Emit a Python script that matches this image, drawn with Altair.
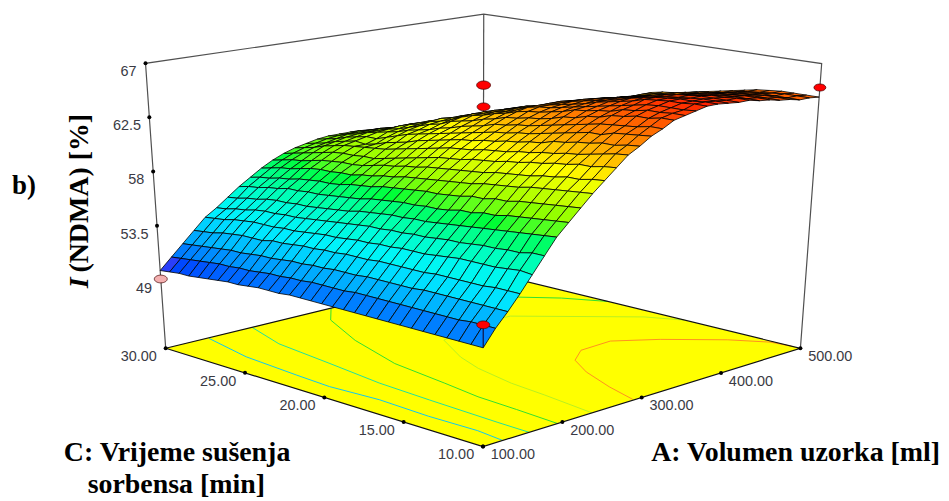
import numpy as np
import altair as alt

A_RANGE = (100.0, 500.0)
C_RANGE = (10.0, 30.0)
Z_FLOOR, Z_TOP = 43.4, 67.0
# rows: C from 10 to 30, columns: A from 100 to 500 (31 mesh lines each way)
Z_TABLE = [
 [50.7,51.9,52.9,54.0,55.2,56.4,57.6,58.5,59.4,60.3,61.1,61.9,62.7,63.2,63.8,64.2,64.7,64.9,65.1,65.3,65.3,65.2,65.1,65.1,64.9,64.8,64.6,64.5,64.3,64.3,64.2],
 [50.7,51.9,52.9,54.0,55.3,56.4,57.5,58.4,59.3,60.2,61.0,61.8,62.6,63.1,63.7,64.2,64.7,64.9,65.0,65.3,65.3,65.2,65.1,65.1,64.9,64.8,64.6,64.5,64.3,64.3,64.2],
 [50.7,51.9,52.9,54.0,55.2,56.2,57.4,58.3,59.2,60.1,60.8,61.6,62.4,62.9,63.6,64.0,64.5,64.8,65.0,65.2,65.2,65.2,65.1,65.0,64.9,64.8,64.6,64.5,64.3,64.3,64.2],
 [50.7,51.8,52.9,53.9,55.1,56.2,57.3,58.2,59.1,60.0,60.8,61.6,62.2,62.9,63.5,63.9,64.5,64.8,65.0,65.2,65.2,65.1,65.1,65.0,64.8,64.7,64.5,64.4,64.3,64.2,64.2],
 [50.7,51.8,52.9,53.9,55.1,56.1,57.2,58.1,59.0,59.9,60.6,61.4,62.0,62.7,63.2,63.8,64.3,64.6,64.9,65.1,65.1,65.0,65.0,64.8,64.7,64.6,64.4,64.3,64.2,64.1,64.1],
 [50.7,51.8,52.9,53.9,55.1,56.1,57.1,58.0,58.9,59.8,60.5,61.3,61.9,62.6,63.2,63.7,64.2,64.5,64.7,65.0,65.0,64.9,64.9,64.7,64.6,64.5,64.3,64.2,64.1,64.0,64.0],
 [50.7,51.8,52.9,53.9,55.1,56.0,57.0,57.8,58.7,59.6,60.3,61.1,61.7,62.4,63.0,63.5,63.9,64.2,64.5,64.7,64.8,64.7,64.7,64.5,64.4,64.3,64.1,64.0,63.9,63.8,63.8],
 [50.7,51.8,52.9,53.9,55.0,55.9,56.9,57.8,58.7,59.5,60.2,61.0,61.6,62.3,62.8,63.3,63.8,64.1,64.3,64.5,64.6,64.5,64.5,64.3,64.2,64.1,63.9,63.8,63.7,63.6,63.6],
 [50.7,51.8,52.8,53.8,54.9,55.9,56.8,57.6,58.5,59.4,60.1,60.8,61.4,62.0,62.6,63.1,63.5,63.9,64.1,64.3,64.3,64.3,64.2,64.1,63.9,63.8,63.7,63.6,63.5,63.4,63.4],
 [50.7,51.8,52.8,53.8,54.8,55.8,56.7,57.6,58.5,59.3,60.0,60.7,61.3,61.9,62.4,62.9,63.4,63.8,63.9,64.1,64.1,64.1,64.0,63.9,63.7,63.6,63.5,63.4,63.3,63.3,63.2],
 [50.7,51.8,52.8,53.8,54.8,55.7,56.6,57.4,58.3,59.1,59.8,60.5,61.1,61.7,62.2,62.7,63.1,63.5,63.7,63.8,63.9,63.9,63.8,63.7,63.5,63.4,63.3,63.2,63.1,63.1,63.0],
 [50.7,51.8,52.8,53.8,54.8,55.7,56.5,57.3,58.2,59.0,59.7,60.4,61.0,61.6,62.1,62.5,62.9,63.3,63.5,63.6,63.7,63.7,63.6,63.5,63.3,63.2,63.1,63.0,62.9,62.9,62.8],
 [50.7,51.8,52.8,53.8,54.7,55.6,56.5,57.3,58.1,58.9,59.6,60.3,60.9,61.4,61.9,62.4,62.8,63.1,63.3,63.4,63.5,63.5,63.4,63.3,63.1,63.0,62.9,62.8,62.7,62.7,62.6],
 [50.7,51.7,52.7,53.7,54.7,55.6,56.4,57.2,58.1,58.8,59.5,60.1,60.7,61.3,61.8,62.2,62.6,63.0,63.2,63.2,63.2,63.2,63.1,63.0,62.8,62.7,62.6,62.6,62.5,62.5,62.5],
 [50.7,51.7,52.7,53.7,54.6,55.5,56.4,57.2,58.0,58.7,59.4,60.0,60.6,61.1,61.6,62.1,62.5,62.8,63.0,63.0,63.0,63.0,62.9,62.8,62.6,62.5,62.4,62.4,62.3,62.3,62.3],
 [50.7,51.7,52.7,53.7,54.6,55.5,56.3,57.1,57.9,58.6,59.3,59.9,60.5,61.0,61.4,61.8,62.2,62.5,62.6,62.7,62.6,62.6,62.5,62.4,62.2,62.1,62.0,62.0,61.9,61.9,61.9],
 [50.7,51.7,52.6,53.6,54.5,55.4,56.2,57.0,57.8,58.5,59.1,59.7,60.3,60.8,61.2,61.6,62.0,62.3,62.3,62.4,62.3,62.3,62.2,62.1,61.9,61.8,61.8,61.7,61.7,61.7,61.6],
 [50.7,51.6,52.6,53.6,54.4,55.3,56.1,56.9,57.7,58.3,59.0,59.5,60.1,60.6,61.0,61.4,61.7,62.0,62.1,62.1,62.1,62.1,61.9,61.8,61.7,61.6,61.5,61.5,61.4,61.4,61.4],
 [50.6,51.6,52.5,53.5,54.4,55.2,55.9,56.7,57.5,58.2,58.8,59.3,59.9,60.4,60.8,61.1,61.5,61.8,61.8,61.9,61.8,61.8,61.7,61.6,61.4,61.3,61.3,61.2,61.2,61.2,61.1],
 [50.6,51.5,52.5,53.5,54.3,55.1,55.8,56.6,57.4,58.0,58.7,59.1,59.7,60.2,60.6,60.9,61.3,61.5,61.6,61.6,61.5,61.5,61.4,61.3,61.2,61.1,61.0,61.0,60.9,60.9,60.9],
 [50.6,51.5,52.4,53.4,54.2,55.0,55.7,56.5,57.3,57.9,58.5,58.9,59.5,59.9,60.4,60.6,60.9,61.1,61.2,61.1,61.2,61.1,60.9,60.8,60.7,60.6,60.6,60.5,60.5,60.5,60.4],
 [50.5,51.4,52.3,53.3,54.1,54.9,55.6,56.4,57.1,57.7,58.3,58.7,59.3,59.7,60.2,60.4,60.7,60.8,60.9,60.8,60.9,60.8,60.6,60.5,60.4,60.3,60.3,60.3,60.2,60.2,60.2],
 [50.4,51.3,52.3,53.3,54.1,54.8,55.5,56.3,57.0,57.7,58.2,58.7,59.2,59.5,59.9,60.2,60.4,60.6,60.7,60.6,60.6,60.5,60.4,60.3,60.2,60.1,60.1,60.0,60.0,60.0,59.9],
 [50.4,51.3,52.2,53.1,54.0,54.8,55.5,56.3,57.0,57.6,58.2,58.6,59.1,59.2,59.6,59.9,60.1,60.2,60.2,60.2,60.2,60.1,59.9,59.8,59.7,59.7,59.6,59.6,59.5,59.5,59.5],
 [50.3,51.2,52.1,53.1,54.0,54.7,55.4,56.2,56.9,57.6,58.1,58.6,59.0,59.0,59.3,59.7,59.8,60.0,60.0,60.0,59.9,59.8,59.7,59.6,59.5,59.4,59.4,59.3,59.3,59.3,59.2],
 [50.2,51.2,52.1,53.1,54.0,54.7,55.4,56.2,56.8,57.5,58.0,58.5,58.9,59.1,59.3,59.5,59.6,59.7,59.7,59.6,59.5,59.5,59.4,59.3,59.2,59.2,59.1,59.1,59.0,59.0,59.0],
 [50.1,51.1,52.0,53.0,53.9,54.6,55.3,56.0,56.6,57.3,57.8,58.3,58.7,58.9,59.1,59.3,59.3,59.3,59.3,59.2,59.1,59.0,58.9,58.8,58.7,58.7,58.7,58.6,58.6,58.6,58.5],
 [50.0,51.0,51.9,52.9,53.8,54.4,55.1,55.9,56.5,57.1,57.6,58.1,58.5,58.7,58.9,59.0,59.0,59.1,59.0,58.9,58.8,58.7,58.6,58.6,58.5,58.5,58.4,58.4,58.3,58.3,58.3],
 [50.0,50.9,51.8,52.7,53.6,54.3,55.0,55.7,56.3,57.0,57.5,57.9,58.2,58.4,58.6,58.8,58.8,58.8,58.8,58.7,58.6,58.5,58.4,58.3,58.2,58.2,58.2,58.1,58.1,58.1,58.0],
 [49.9,50.8,51.7,52.6,53.5,54.1,54.8,55.6,56.2,56.8,57.3,57.7,58.0,58.2,58.4,58.5,58.5,58.6,58.5,58.4,58.3,58.2,58.1,58.1,58.0,58.0,58.0,57.9,57.9,57.9,57.8],
 [49.8,50.7,51.6,52.5,53.4,54.0,54.7,55.4,56.0,56.6,57.1,57.5,57.8,58.0,58.2,58.3,58.3,58.3,58.2,58.1,58.0,57.9,57.8,57.8,57.7,57.7,57.7,57.6,57.6,57.6,57.5],
]
A_LEVELS = np.linspace(*A_RANGE, len(Z_TABLE[0]))
C_LEVELS = np.linspace(*C_RANGE, len(Z_TABLE))

A_TICKS = [100, 200, 300, 400, 500]
A_TICK_TEXT = ["100.00", "200.00", "300.00", "400.00", "500.00"]
C_TICKS = [10, 15, 20, 25, 30]
C_TICK_TEXT = ["10.00", "15.00", "20.00", "25.00", "30.00"]
Z_TICKS = [49, 53.5, 58, 62.5, 67]
Z_TICK_TEXT = ["49", "53.5", "58", "62.5", "67"]

POINT_A = [500, 500, 100, 100, 500]
POINT_C = [30, 30, 30, 10, 10]
POINT_Z = [60.4, 58.4, 49.1, 52.4, 65.0]
POINT_FILL = ["#FF0000", "#FF0000", "#F4B0B0", "#FF0000", "#FF0000"]
POINT_SIZE = [196, 169, 169, 169, 144]

CONTOURS = [
 ("#10C8F0", [148,133,127,124,128,125,126,122], [29.9,26.4,22.7,20.4,17.5,14.4,11.6,10]),
 ("#20E0A0", [200,181,171,161,157,153,152], [30,27,23,19.3,16,11.8,10]),
 ("#30E030", [297,268,237,211,200,192,189,185], [30,28.4,25,21,17.3,14.9,12.5,10]),
 ("#30E030", [428,451,478,500], [26.7,25.2,23.6,21.6]),
 ("#B8F020", [226,235,240,252,266,294,348,396,482,500], [10,13.1,15.3,17.9,19.7,22.2,23.2,23,18.5,16.8]),
 ("#FF9020", [278,291,310,330,357,398,434,476,497,500], [10.1,12,14.2,15.8,16.7,16.8,15.4,13.2,11.6,10.5]),
]

# camera: box corners as they fall on the page (a, c, w) -> (px, py)
CAMERA = [
 ((0,0,0),(485,448)), ((0,1,0),(166.5,348)), ((1,0,0),(804,348)), ((1,1,0),(485,272)),
 ((0,1,1),(146,62.7)), ((1,1,1),(486,12.7)), ((1,0,1),(825,63)),
]
rows, rhs = [], []
for (a, c, w), (px, py) in CAMERA:
    rows.append([a, c, w, 1, 0, 0, 0, 0, -px*a, -px*c, -px*w]); rhs.append(px)
    rows.append([0, 0, 0, 0, a, c, w, 1, -py*a, -py*c, -py*w]); rhs.append(py)
M = np.linalg.lstsq(np.array(rows, float), np.array(rhs, float), rcond=None)[0]

def project(A, C, Z):
    a = (A-A_RANGE[0])/(A_RANGE[1]-A_RANGE[0])
    c = (C-C_RANGE[0])/(C_RANGE[1]-C_RANGE[0])
    t = (Z-Z_FLOOR)/(Z_TOP-Z_FLOOR)
    w = t/(1+M[10]*(1-t))
    d = M[8]*a+M[9]*c+M[10]*w+1
    return [float((M[0]*a+M[1]*c+M[2]*w+M[3])/d), float((M[4]*a+M[5]*c+M[6]*w+M[7])/d)]

def poly(points, **props):
    ring = [project(*p) for p in points]
    return {"type":"Feature","properties":props,"geometry":{"type":"Polygon","coordinates":[ring+[ring[0]]]}}

def line(points, **props):
    return {"type":"Feature","properties":props,
            "geometry":{"type":"LineString","coordinates":[project(*p) for p in points]}}

A0, A1 = A_RANGE; C0, C1 = C_RANGE
floor = [poly([(A0,C0,Z_FLOOR),(A1,C0,Z_FLOOR),(A1,C1,Z_FLOOR),(A0,C1,Z_FLOOR)])]
back_lines = [line([(A0,C1,Z_FLOOR),(A0,C1,Z_TOP),(A1,C1,Z_TOP),(A1,C0,Z_TOP),(A1,C0,Z_FLOOR)], s="#505050"),
              line([(A1,C1,Z_FLOOR),(A1,C1,Z_TOP)], s="#505050")]
floor_edges = [line([(A0,C1,Z_FLOOR),(A0,C0,Z_FLOOR),(A1,C0,Z_FLOOR),(A1,C1,Z_FLOOR),(A0,C1,Z_FLOOR)], s="#101010")]
contours = [line([(x,y,Z_FLOOR) for x,y in zip(xs,ys)], s=col) for col,xs,ys in CONTOURS]

cells = []
for j in range(len(C_LEVELS)-1):
    for i in range(len(A_LEVELS)-1):
        corners = [(float(A_LEVELS[i]),float(C_LEVELS[j]),Z_TABLE[j][i]),(float(A_LEVELS[i+1]),float(C_LEVELS[j]),Z_TABLE[j][i+1]),
                   (float(A_LEVELS[i+1]),float(C_LEVELS[j+1]),Z_TABLE[j+1][i+1]),(float(A_LEVELS[i]),float(C_LEVELS[j+1]),Z_TABLE[j+1][i])]
        cells.append((i+j, poly(corners, z=sum(p[2] for p in corners)/4)))
cells = [f for _,f in sorted(cells, key=lambda t:-t[0])]

stem = [line([(A0,C0,Z_TABLE[0][0]),(A0,C0,POINT_Z[3])], s="#101040")]

def along(start, end, f):
    return [start[0]+(end[0]-start[0])*f, start[1]+(end[1]-start[1])*f]

tick_dots, tick_lab = [], []
F_, L_, R_ = project(A0,C0,Z_FLOOR), project(A0,C1,Z_FLOOR), project(A1,C0,Z_FLOOR)
for v,t in zip(C_TICKS,C_TICK_TEXT):
    p = along(F_, L_, (v-C0)/(C1-C0)); tick_dots.append({"x":p[0],"y":p[1]})
    tick_lab.append({"x":p[0]-27,"y":p[1]+9,"t":t})
for v,t in zip(A_TICKS,A_TICK_TEXT):
    p = along(F_, R_, (v-A0)/(A1-A0)); tick_dots.append({"x":p[0],"y":p[1]})
    tick_lab.append({"x":p[0]+30,"y":p[1]+9,"t":t})
for v,t in zip(Z_TICKS,Z_TICK_TEXT):
    p = project(A0,C1,v)
    if v != Z_TICKS[0]:
        tick_dots.append({"x":p[0],"y":p[1]})
    tick_lab.append({"x":p[0]-(17 if len(t)==2 else 22.5),"y":p[1]+9,"t":t})

points = []
for a_,c_,z_,f_,s_ in zip(POINT_A,POINT_C,POINT_Z,POINT_FILL,POINT_SIZE):
    p = project(a_,c_,z_); points.append({"x":p[0],"y":p[1],"f":f_,"s":s_})

TITLES = [
 {"x":64,"y":453.5,"t":"C: Vrijeme sušenja"},
 {"x":88,"y":486.5,"t":"sorbensa [min]"},
 {"x":654,"y":453.5,"t":"A: Volumen uzorka [ml]"},
]

def geo(features, **mark):
    return alt.Chart(alt.Data(values=features)).mark_geoshape(**mark)

lay = [
 geo(back_lines, filled=False, strokeWidth=1.2).encode(stroke=alt.Stroke("properties.s:N", scale=None)),
 geo(floor, fill="#FFFF00", stroke=None),
 geo(contours, filled=False, strokeWidth=1).encode(stroke=alt.Stroke("properties.s:N", scale=None)),
 geo(floor_edges, filled=False, strokeWidth=1.2).encode(stroke=alt.Stroke("properties.s:N", scale=None)),
 geo(cells, stroke="#000000", strokeWidth=0.8).encode(
   color=alt.Color("properties.z:Q", legend=None, scale=alt.Scale(
     domain=[50.4,53.8,57.5,61,63.5,65.3], range=["#0048FF","#00F0FF","#00FF30","#FFFF00","#FF8000","#FF2000"]))),
 geo(stem, filled=False, strokeWidth=1.2).encode(stroke=alt.Stroke("properties.s:N", scale=None)),
 alt.Chart(alt.Data(values=tick_dots)).mark_circle(color="#000000", size=16, opacity=1).encode(longitude="x:Q", latitude="y:Q"),
 alt.Chart(alt.Data(values=tick_lab)).mark_text(font="Liberation Sans", fontSize=14.5, color="#3a3a44").encode(longitude="x:Q", latitude="y:Q", text="t:N"),
 alt.Chart(alt.Data(values=points)).mark_point(shape="M-1,0A1,.6 0 1,1 1,0A1,.6 0 1,1 -1,0Z", filled=True, stroke="#400000", strokeWidth=0.7, opacity=1).encode(
   longitude="x:Q", latitude="y:Q", fill=alt.Fill("f:N", scale=None), size=alt.Size("s:Q", scale=None)),
 alt.Chart(alt.Data(values=[{"x":24,"y":186,"t":"b)"}])).mark_text(font="Liberation Serif", fontWeight="bold", fontSize=27, color="#000000").encode(longitude="x:Q", latitude="y:Q", text="t:N"),
 alt.Chart(alt.Data(values=TITLES)).mark_text(font="Liberation Serif", fontWeight="bold", fontSize=28, color="#000000", align="left").encode(longitude="x:Q", latitude="y:Q", text="t:N"),
 alt.Chart(alt.Data(values=[{"x":80,"y":283,"t":"I"}])).mark_text(font="Liberation Serif", fontWeight="bold", fontStyle="italic", fontSize=28, color="#000000", angle=270).encode(longitude="x:Q", latitude="y:Q", text="t:N"),
 alt.Chart(alt.Data(values=[{"x":80,"y":193,"t":"(NDMA) [%]"}])).mark_text(font="Liberation Serif", fontWeight="bold", fontSize=28, color="#000000", angle=270).encode(longitude="x:Q", latitude="y:Q", text="t:N"),
]

chart = alt.layer(*lay).project(type="identity", scale=1, translate=[-8,-8], reflectY=False).properties(
    width=937, height=491, padding=0, autosize=alt.AutoSizeParams(type="none"), background="white"
).configure_view(stroke=None)
chart.save("out.html", embed_options={"renderer": "svg", "actions": False})
